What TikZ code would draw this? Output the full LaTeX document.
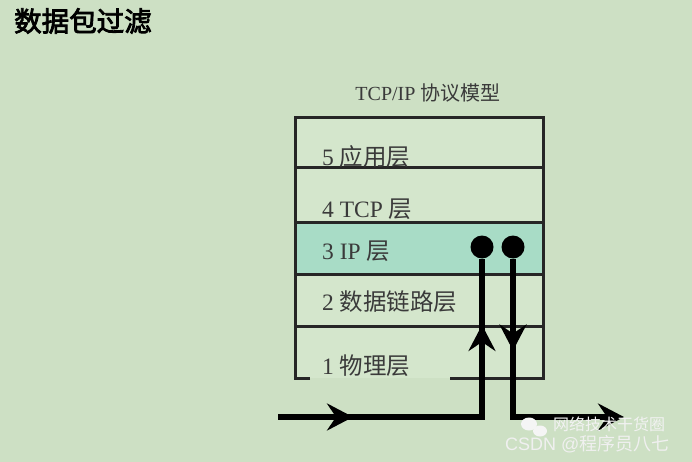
\documentclass[tikz,border=0pt]{standalone}
\usepackage{fontspec}
\setmainfont{Liberation Serif}
\newfontfamily\cjk{Noto Sans CJK SC}
\newfontfamily\cjkbold{Noto Sans CJK SC}[FakeBold=3]
\newfontfamily\wmsans{Liberation Sans}
\usetikzlibrary{arrows.meta,decorations.markings}
\definecolor{bg}{HTML}{CDE0C4}
\definecolor{boxfill}{HTML}{D4E6CC}
\definecolor{ipfill}{HTML}{A8DCC6}
\definecolor{txtgray}{HTML}{3A3A3A}
\tikzset{
  layerbox/.style={draw=black!85, line width=3pt, fill=boxfill, anchor=north west,
    minimum width=248pt, inner sep=0pt, outer sep=0pt},
  lbl/.style={anchor=west, inner sep=0pt, text=txtgray, font=\fontsize{23.5}{26}\selectfont},
  flow/.style={line width=6pt, black},
  dot/.style={circle, fill=black, minimum size=23pt, inner sep=0pt, outer sep=0pt},
  bigtip/.tip={Stealth[length=26pt,width=27pt,inset=9pt]}
}
\begin{document}
\begin{tikzpicture}[x=1pt,y=-1pt]
\useasboundingbox (0,0) rectangle (692,462);
\fill[bg] (0,0) rectangle (692,462);
% heading
\node[anchor=west, inner sep=0pt, font=\cjkbold\fontsize{27.5}{30}\selectfont] (head) at (14,21) {数据包过滤};
% model title
\node[inner sep=0pt, text=txtgray, font=\fontsize{20}{22}\selectfont] (title) at (428,93) {TCP/IP {\cjk 协议模型}};
% layers
\node[layerbox, minimum height=50pt] (l5) at (295,118) {};
\node[layerbox, minimum height=54pt] (l4) at (295,168) {};
\node[layerbox, minimum height=52pt, fill=ipfill] (l3) at (295,222) {};
\node[layerbox, minimum height=52pt] (l2) at (295,274) {};
\node[layerbox, minimum height=52pt, draw=none] (l1) at (295,326) {};
\draw[draw=black!85, line width=3pt] ([xshift=15pt]l1.south west) -- (l1.south west) -- (l1.north west) -- (l1.north east) -- (l1.south east) -- ([xshift=-93pt]l1.south east);
% labels
\node[lbl] (t5) at (322,157) {5 {\cjk 应用层}};
\node[lbl] (t4) at (322,209) {4 TCP {\cjk 层}};
\node[lbl] (t3) at (322,251) {3 IP {\cjk 层}};
\node[lbl] (t2) at (322,302) {2 {\cjk 数据链路层}};
\node[lbl] (t1) at (322,366) {1 {\cjk 物理层}};
% filter points
\node[dot] (d1) at (482,247) {};
\node[dot] (d2) at (513,247) {};
\coordinate (in) at (278,417);
\coordinate (c1) at (482,417);
\coordinate (c2) at (513,417);
\coordinate (out) at (624,417);
\draw[flow, postaction={decorate}, decoration={markings,
   mark=at position 75pt with {\arrow{bigtip}},
   mark=at position 296pt with {\arrow{bigtip}}}]
   (in) -- (c1) -- (d1);
\draw[flow, -bigtip, postaction={decorate}, decoration={markings,
   mark=at position 92pt with {\arrow{bigtip}}}]
   (d2) -- (c2) -- (out);
% watermark
\fill[white!92!gray] (529,424) ellipse (8pt and 6.5pt);
\fill[white!92!gray] (540,431) ellipse (7pt and 5.5pt);
\node[anchor=west, inner sep=0pt, text=white!90!gray, font=\cjk\fontsize{16}{18}\selectfont] (wm1) at (553,424) {网络技术干货圈};
\node[anchor=west, inner sep=0pt, text=white!88!gray, font=\wmsans\fontsize{18}{20}\selectfont] (wm2) at (505,444) {CSDN @{\cjk 程序员八七}};
\end{tikzpicture}
\end{document}
